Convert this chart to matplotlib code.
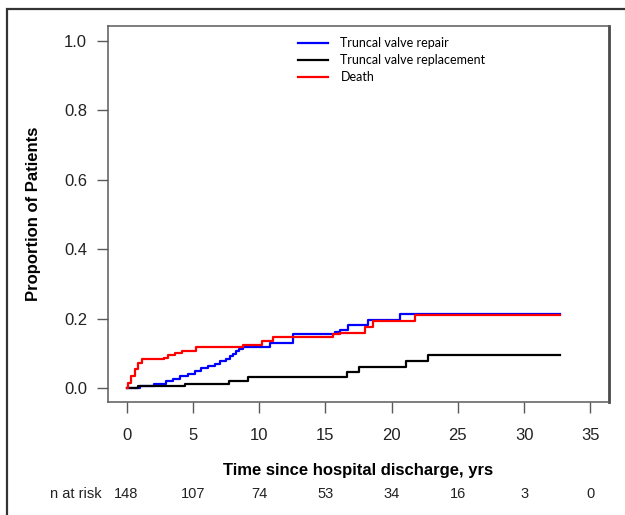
import matplotlib
matplotlib.use("Agg")
import matplotlib.pyplot as plt
from matplotlib.patches import Rectangle

# cumulative incidence, step values
repair_t = [0, 1.0, 2.1, 3.0, 3.5, 4.0, 4.6, 5.15, 5.65, 6.15, 6.65, 7.05, 7.5, 7.8,
            8.05, 8.25, 8.45, 8.75, 10.8, 12.55, 15.7, 16.1, 16.7, 18.2, 20.6, 32.7]
repair_v = [0, 0.005, 0.013, 0.020, 0.027, 0.034, 0.042, 0.050, 0.057, 0.064, 0.070, 0.077,
            0.084, 0.091, 0.099, 0.106, 0.113, 0.119, 0.130, 0.155, 0.161, 0.167, 0.182,
            0.197, 0.213, 0.213]

replace_t = [0, 0.9, 4.4, 7.7, 9.2, 16.6, 17.5, 21.1, 22.75, 32.7]
replace_v = [0, 0.006, 0.013, 0.021, 0.031, 0.045, 0.060, 0.077, 0.095, 0.095]

death_t = [0, 0.1, 0.35, 0.6, 0.88, 1.13, 2.8, 3.15, 3.65, 4.15, 5.25, 8.75, 10.2,
           11.05, 15.6, 16.1, 18.0, 18.6, 21.75, 32.7]
death_v = [0, 0.014, 0.034, 0.055, 0.072, 0.083, 0.088, 0.094, 0.100, 0.108, 0.119,
           0.124, 0.135, 0.147, 0.155, 0.159, 0.176, 0.194, 0.210, 0.210]

risk_times = [0, 5, 10, 15, 20, 25, 30, 35]
n_at_risk = [148, 107, 74, 53, 34, 16, 3, 0]
y_ticks = [0.0, 0.2, 0.4, 0.6, 0.8, 1.0]

plt.rcParams['font.family'] = ['Liberation Sans', 'DejaVu Sans']

W, H = 625, 515
fig = plt.figure(figsize=(W / 100, H / 100), dpi=100)
ax = fig.add_axes([108 / W, 1 - 402 / H, 501 / W, 376 / H])

ax.step(repair_t, repair_v, where='post', color='#0000ff', lw=1.6, label='Truncal valve repair')
ax.step(replace_t, replace_v, where='post', color='black', lw=1.6, label='Truncal valve replacement')
ax.step(death_t, death_v, where='post', color='#ff0000', lw=1.6, label='Death')

ax.set_xlim(-1.4, 36.4)
ax.set_ylim(-0.04, 1.042)
ax.set_xticks(risk_times)
ax.set_yticks(y_ticks)
ax.set_yticklabels([f"{v:.1f}" for v in y_ticks])

for side, sp in ax.spines.items():
    sp.set_color('#5a5a5a')
    sp.set_linewidth(1.1)
ax.spines['right'].set_linewidth(2.0)
ax.spines['right'].set_color('#4a4a4a')

ax.tick_params(axis='y', length=8, width=1, color='#5a5a5a', pad=7, labelsize=12, labelcolor='#222222')
ax.tick_params(axis='x', length=8, width=1, color='#5a5a5a', pad=11, labelsize=12, labelcolor='#222222')

ax.set_ylabel('Proportion of Patients', fontsize=12, fontweight='bold')
ax.yaxis.set_label_coords((41 - 108) / 501, 0.5)

fig.text(358.5 / W, 1 - 471 / H, 'Time since hospital discharge, yrs', ha='center', va='center',
         fontsize=12, fontweight='bold')

# numbers at risk under each tick
for t, n in zip(risk_times, n_at_risk):
    ax.text(t, (402 - 494) / 376, str(n), transform=ax.get_xaxis_transform(),
            ha='center', va='center', fontsize=10.5, color='#222222')
ax.text(102 / W, 1 - 494 / H, 'n at risk', transform=fig.transFigure, ha='right',
        va='center', fontsize=10.5, color='#222222')

leg = ax.legend(loc='upper left', bbox_to_anchor=(298 / W, 1 - 37 / H),
                bbox_transform=fig.transFigure, frameon=False, borderpad=0,
                borderaxespad=0, handlelength=2.4, handletextpad=1.0,
                labelspacing=0.4, prop={'family': 'Lato', 'size': 9})

# outer frame of the figure panel
fig.patches.append(Rectangle((7 / W, -0.1), 1.2, 1 - 9 / H + 0.1, transform=fig.transFigure,
                             fill=False, edgecolor='#333333', lw=1.6))

fig.savefig('out.png', dpi=100)
